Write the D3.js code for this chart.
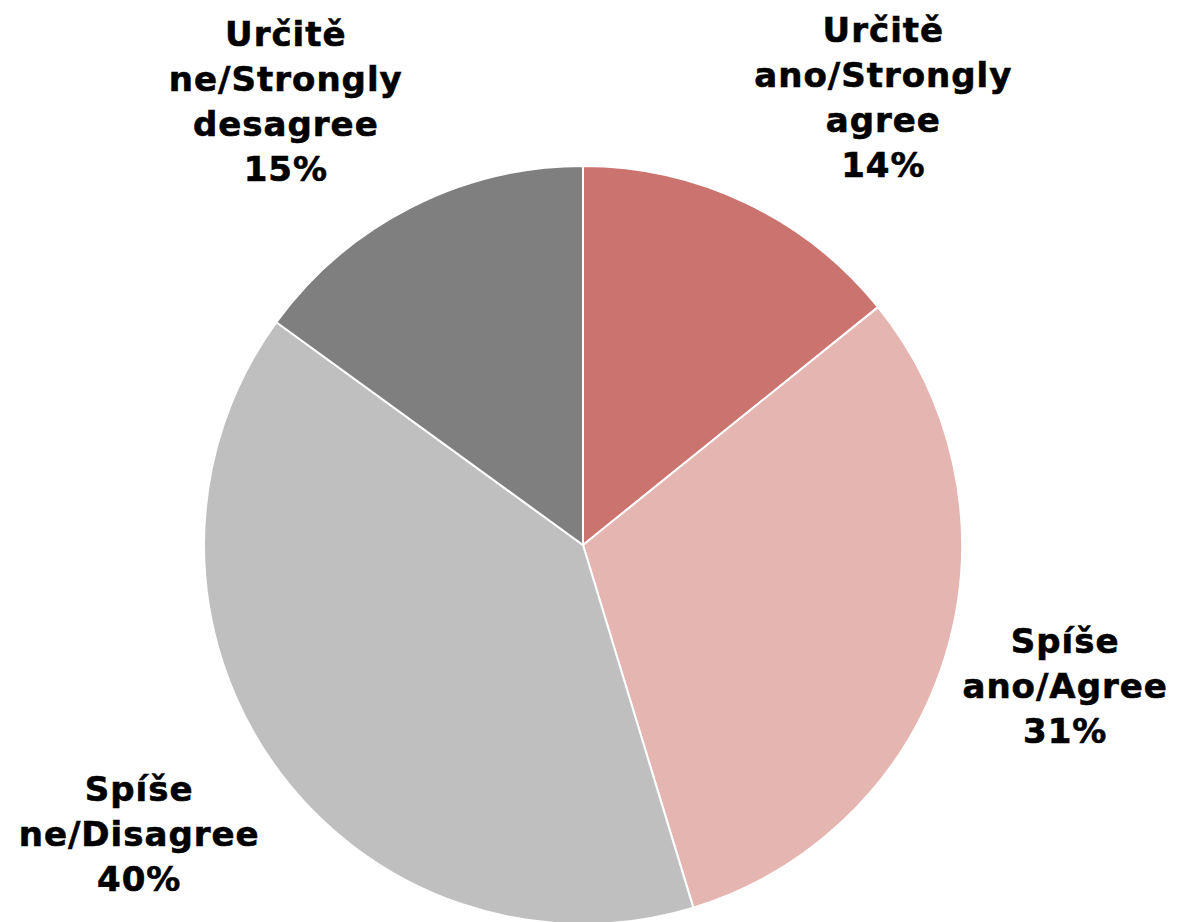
<!DOCTYPE html>
<html>
<head>
<meta charset="utf-8">
<script src="https://cdn.jsdelivr.net/npm/d3@7/dist/d3.min.js"></script>
<style>
  html, body { margin: 0; padding: 0; background: #fff; }
  svg { display: block; }
  text { font-family: Verdana, "DejaVu Sans", sans-serif; font-weight: bold; fill: #000; }
</style>
</head>
<body>
<svg id="chart" width="1180" height="922"></svg>
<script>
// Data
const categories = [
  "Určitě\nano/Strongly\nagree",
  "Spíše\nano/Agree",
  "Spíše\nne/Disagree",
  "Určitě\nne/Strongly\ndesagree"
];
const values = [14.2, 31.1, 39.7, 15.0];
const percentLabels = ["14%", "31%", "40%", "15%"];
const colors = ["#CB736F", "#E5B5B1", "#BFBFBF", "#7F7F7F"];

const width = 1180, height = 922;
const cx = 583, cy = 545, radius = 379;
const fontSize = 34, lineH = 45;

const svg = d3.select("#chart");
const g = svg.append("g").attr("transform", `translate(${cx},${cy})`);

const pie = d3.pie().sort(null).value(d => d)
  .startAngle(0).endAngle(2 * Math.PI);
const arcs = pie(values);
const arc = d3.arc().innerRadius(0).outerRadius(radius);

g.selectAll("path.slice")
  .data(arcs)
  .enter().append("path")
  .attr("class", "slice")
  .attr("d", arc)
  .attr("fill", (d, i) => colors[i])
  .attr("stroke", "#fff")
  .attr("stroke-width", 2)
  .attr("stroke-linejoin", "round");

// Labels placed outside end of each slice
const gap = 18;
const clamp = v => Math.max(-1, Math.min(1, v));
const vShift = c => Math.sign(c) * Math.max(0, Math.min(1, (Math.abs(c) - 0.1) / 0.55));
arcs.forEach((d, i) => {
  const lines = categories[i].split("\n").concat([percentLabels[i]]);
  const mid = (d.startAngle + d.endAngle) / 2;
  const s = Math.sin(mid), c = Math.cos(mid);
  const px = (radius + gap) * s, py = -(radius + gap) * c;
  const lg = g.append("g");
  const texts = lg.selectAll("text").data(lines).enter().append("text")
    .attr("text-anchor", "middle")
    .attr("font-size", fontSize)
    .attr("letter-spacing", 1)
    .attr("stroke", "#000")
    .attr("stroke-width", 0.6)
    .text(t => t);
  let w = 0;
  texts.each(function() { w = Math.max(w, this.getComputedTextLength()); });
  const h = lines.length * lineH;
  const bx = px + (w / 2) * clamp(s * 2.5);
  const by = py + (h / 2) * vShift(-c);
  texts.attr("x", bx)
    .attr("y", (t, j) => by + (j - (lines.length - 1) / 2) * lineH + fontSize * 0.36);
});
</script>
</body>
</html>
